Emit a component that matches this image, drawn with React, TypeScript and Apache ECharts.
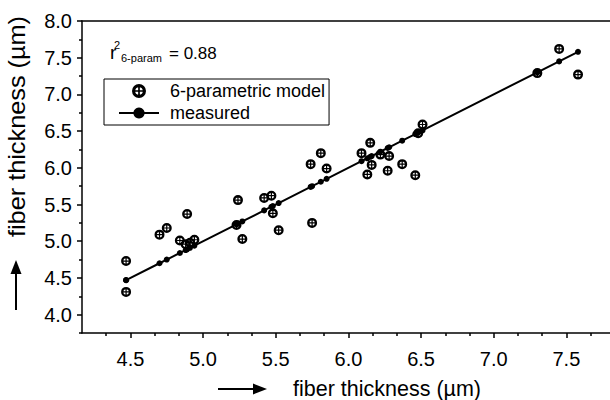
import React, { useEffect, useRef } from "react";
import * as echarts from "echarts";

// measured fiber thickness (µm) of each sample (x, and y of the "measured" line)
const measuredThickness = [
  4.47, 4.47, 4.70, 4.75, 4.84, 4.88, 4.89, 4.91, 4.94, 5.23, 5.24, 5.27,
  5.42, 5.47, 5.48, 5.52, 5.74, 5.75, 5.81, 5.85, 6.09, 6.13, 6.15, 6.16,
  6.22, 6.27, 6.28, 6.37, 6.46, 6.48, 6.51, 7.30, 7.45, 7.58,
];
// 6-parametric model prediction for the same samples
const modelThickness = [
  4.73, 4.31, 5.09, 5.18, 5.01, 4.96, 5.37, 4.98, 5.02, 5.22, 5.56, 5.03,
  5.59, 5.62, 5.38, 5.15, 6.05, 5.25, 6.20, 5.99, 6.20, 5.91, 6.34, 6.04,
  6.18, 5.96, 6.16, 6.05, 5.90, 6.47, 6.59, 7.29, 7.62, 7.27,
];
const xTickLabels = [4.5, 5.0, 5.5, 6.0, 6.5, 7.0, 7.5];
const yTickLabels = [4.0, 4.5, 5.0, 5.5, 6.0, 6.5, 7.0, 7.5, 8.0];
const seriesNames = ["6-parametric model", "measured"];
const r2Value = "0.88";

const X_MIN = 25 / 6;
const X_MAX = 7.8;
const Y_MIN = 3.75;
const Y_MAX = 8.0;

const FONT = "'Liberation Sans', Arial, Helvetica, sans-serif";

const xMinor: number[] = [];
for (let k = 1; k * (1 / 6) + X_MIN < X_MAX; k++) {
  const v = X_MIN + k / 6;
  if (Math.abs(v * 2 - Math.round(v * 2)) > 1e-6) xMinor.push(v);
}
const yMinor: number[] = [];
for (let v = Y_MIN; v < Y_MAX; v += 0.5) yMinor.push(v);

const modelSymbol =
  "path://M10,0A10,10,0,1,1,10,20A10,10,0,1,1,10,0Z M10,4.6A5.4,5.4,0,1,0,10,15.4A5.4,5.4,0,1,0,10,4.6Z M8.8,4L11.2,4L11.2,16L8.8,16Z M4,8.8L16,8.8L16,11.2L4,11.2Z";

export default function App() {
  const ref = useRef<HTMLDivElement>(null);
  useEffect(() => {
    if (!ref.current) return;
    const chart = echarts.init(ref.current, null, { renderer: "svg" });
    const axisLine = { lineStyle: { color: "#000", width: 1.5 } };
    const tickStyle = { color: "#000", width: 1.5 };
    const measuredData = measuredThickness
      .map((v) => [v, v])
      .sort((a, b) => a[0] - b[0]);
    const modelData = measuredThickness.map((v, i) => [v, modelThickness[i]]);
    chart.setOption({
      animation: false,
      backgroundColor: "#fff",
      grid: { left: 82, top: 21, right: 0, bottom: 67 },
      xAxis: [
        {
          type: "value",
          min: X_MIN,
          max: X_MAX,
          position: "bottom",
          axisLine,
          axisTick: { customValues: xTickLabels, length: 5, lineStyle: tickStyle },
          axisLabel: {
            customValues: xTickLabels,
            formatter: (v: number) => v.toFixed(1),
            fontSize: 20,
            fontFamily: FONT,
            color: "#000",
            margin: 16,
          },
          splitLine: { show: false },
        },
        {
          type: "value",
          min: X_MIN,
          max: X_MAX,
          position: "bottom",
          axisLine: { show: false },
          axisTick: { customValues: xMinor, length: 3, lineStyle: tickStyle },
          axisLabel: { show: false },
          splitLine: { show: false },
        },
        {
          type: "value",
          min: X_MIN,
          max: X_MAX,
          position: "top",
          axisLine,
          axisTick: { show: false },
          axisLabel: { show: false },
          splitLine: { show: false },
        },
      ],
      yAxis: [
        {
          type: "value",
          min: Y_MIN,
          max: Y_MAX,
          position: "left",
          axisLine,
          axisTick: { customValues: yTickLabels, length: 5, lineStyle: tickStyle },
          axisLabel: {
            customValues: yTickLabels,
            formatter: (v: number) => v.toFixed(1),
            fontSize: 20,
            fontFamily: FONT,
            color: "#000",
            margin: 10,
          },
          splitLine: { show: false },
        },
        {
          type: "value",
          min: Y_MIN,
          max: Y_MAX,
          position: "left",
          axisLine: { show: false },
          axisTick: { customValues: yMinor, length: 3, lineStyle: tickStyle },
          axisLabel: { show: false },
          splitLine: { show: false },
        },
      ],
      legend: {
        orient: "vertical",
        left: 104,
        top: 79,
        padding: [3, 4, 3, 14],
        itemGap: 4,
        itemWidth: 40,
        itemHeight: 14,
        borderColor: "#000",
        borderWidth: 1,
        backgroundColor: "#fff",
        data: seriesNames,
        textStyle: { fontSize: 18, fontFamily: FONT, color: "#000", padding: [0, 0, 0, 6] },
      },
      series: [
        {
          name: seriesNames[0],
          type: "scatter",
          data: modelData,
          symbol: modelSymbol,
          symbolSize: 10,
          itemStyle: { color: "#000", opacity: 1 },
          z: 2,
        },
        {
          name: seriesNames[1],
          type: "line",
          data: measuredData,
          symbol: "circle",
          symbolSize: 6,
          showSymbol: true,
          lineStyle: { color: "#000", width: 2 },
          itemStyle: { color: "#000" },
          z: 3,
        },
      ],
      graphic: [
        { type: "text", x: 110, y: 52, style: { text: "r", font: `19px ${FONT}`, fill: "#000", verticalAlign: "middle" } },
        { type: "text", x: 114, y: 45, style: { text: "2", font: `11px ${FONT}`, fill: "#000", verticalAlign: "middle" } },
        { type: "text", x: 121, y: 58, style: { text: "6-param", font: `11px ${FONT}`, fill: "#000", verticalAlign: "middle" } },
        { type: "text", x: 169, y: 53, style: { text: "= " + r2Value, font: `17px ${FONT}`, fill: "#000", verticalAlign: "middle" } },
        {
          type: "text",
          x: 387,
          y: 389,
          style: { text: "fiber thickness (µm)", font: `21.5px ${FONT}`, fill: "#000", align: "center", verticalAlign: "middle" },
        },
        {
          type: "text",
          x: 17,
          y: 126.5,
          rotation: Math.PI / 2,
          scaleX: 1.1,
          style: { text: "fiber thickness (µm)", font: `23px ${FONT}`, fill: "#000", align: "center", verticalAlign: "middle" },
        },
        { type: "line", shape: { x1: 218, y1: 389, x2: 256, y2: 389 }, style: { stroke: "#000", lineWidth: 2 } },
        { type: "polygon", shape: { points: [[253, 383.5], [267, 389], [253, 394.5]] }, style: { fill: "#000" } },
        { type: "line", shape: { x1: 16, y1: 310, x2: 16, y2: 272 }, style: { stroke: "#000", lineWidth: 2 } },
        { type: "polygon", shape: { points: [[10.5, 274], [16, 260], [21.5, 274]] }, style: { fill: "#000" } },
      ],
    });
    return () => chart.dispose();
  }, []);
  return (
    <div
      ref={ref}
      style={{ position: "absolute", left: 0, top: 0, width: 610, height: 400 }}
    />
  );
}
